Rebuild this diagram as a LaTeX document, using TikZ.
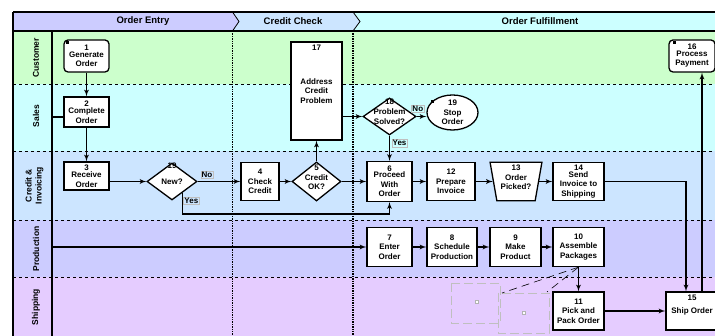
\documentclass[tikz,border=0pt]{standalone}
\usepackage{fontspec}
\setmainfont{Liberation Sans}
\usetikzlibrary{%
  shapes,
  arrows,
  positioning,
  calc
}
\definecolor{custgreen}{HTML}{CCFFCC}
\definecolor{salescyan}{HTML}{CCFFFF}
\definecolor{creditblue}{HTML}{CCE5FF}
\definecolor{prodlavender}{HTML}{CCCCFF}
\definecolor{shiplilac}{HTML}{E5CCFF}
\tikzstyle{stepfont} = [font=\bfseries\fontsize{8}{9.5}\selectfont]
\tikzstyle{squareblock}=[draw, fill=white, rectangle, line width=1.3pt, minimum height=38pt, minimum width=45pt, inner sep=1pt, align=center, stepfont]
\tikzstyle{roundblock}=[squareblock, rounded corners=4pt, minimum height=32pt]
\tikzstyle{decision} = [draw, fill=white, diamond, line width=1.3pt, inner sep=0pt, minimum width=50pt, minimum height=37pt]
\tikzstyle{terminal} = [draw, fill=white, ellipse, line width=1.3pt, inner sep=0pt, minimum width=51pt, minimum height=35pt]
\tikzstyle{manualop} = [draw, fill=white, trapezium, shape border rotate=180, trapezium left angle=80, trapezium right angle=80, line width=1.3pt, inner sep=1pt, minimum width=52pt, minimum height=38pt]
\tikzstyle{steptext} = [align=center, inner sep=0pt, stepfont]
\tikzstyle{flowtag} = [draw=black!25, line width=0.3pt, inner sep=1pt, stepfont]
\tikzstyle{stepmark} = [rectangle, fill=black, minimum size=3pt, inner sep=0pt]
\tikzstyle{lanelabel} = [rotate=90, align=center, font=\bfseries\fontsize{8.5}{10}\selectfont]
\tikzstyle{phasetext} = [font=\bfseries\fontsize{9.5}{11}\selectfont]
\tikzstyle{flow} = [->, line width=1.3pt]
\tikzstyle{lanesep} = [dashed, line width=0.6pt]
\tikzstyle{phasesep} = [densely dotted, line width=1.4pt]
\tikzstyle{laneframe} = [line width=1.5pt]
\tikzstyle{ghostbox} = [draw=black!25, dash pattern=on 9pt off 4pt, line width=0.7pt]
\tikzstyle{ghostline} = [dash pattern=on 8pt off 5pt, line width=0.6pt]
\begin{document}
\begin{tikzpicture}[auto, x=1pt, y=1pt, node distance=62.5pt, >=latex']
        \useasboundingbox (0,0) rectangle (715,336);
        % lanes
        \fill[custgreen] (13,305) rectangle (715,252);
        \fill[salescyan] (13,252) rectangle (715,185);
        \fill[creditblue] (13,185) rectangle (715,116);
        \fill[prodlavender] (13,116) rectangle (715,59);
        \fill[shiplilac] (13,59) rectangle (715,0);
        % phase header
        \fill[salescyan] (13,324) rectangle (715,305);
        \fill[creditblue] (232.5,324) -- (353,324) -- (360,314.5) -- (353,305) -- (232.5,305) -- cycle;
        \draw[line width=0.8pt] (353,324) -- (360,314.5) -- (353,305);
        \fill[prodlavender] (13,324) -- (232.5,324) -- (239,314.5) -- (232.5,305) -- (13,305) -- cycle;
        \draw[line width=0.8pt] (232.5,324) -- (239,314.5) -- (232.5,305);
        \node[phasetext] (phase1) at (143,315) {Order Entry};
        \node[phasetext] (phase2) at (293,315) {Credit Check};
        \node[phasetext] (phase3) at (540,315) {Order Fulfillment};
        \draw[lanesep] (13,252) -- (715,252);
        \draw[lanesep] (13,185) -- (715,185);
        \draw[lanesep] (13,116) -- (715,116);
        \draw[lanesep] (13,59) -- (715,59);
        \draw[phasesep] (232.5,305) -- (232.5,0);
        \draw[phasesep] (353,305) -- (353,0);
        \draw[laneframe] (13,324) -- (715,324);
        \draw[laneframe] (13,305) -- (715,305);
        \draw[laneframe] (13,324) -- (13,0);
        \draw[line width=1.2pt] (52,305) -- (52,0);
        \node[lanelabel] (lane1) at (36,278) {Customer};
        \node[lanelabel] (lane2) at (36,220) {Sales};
        \node[lanelabel] (lane3) at (34.5,150.5) {Credit \&\\Invoicing};
        \node[lanelabel] (lane4) at (36,87) {Production};
        \node[lanelabel] (lane5) at (36,29) {Shipping};
        % stray selection marks
        \draw[ghostbox] (451,53) rectangle (500,13);
        \draw[ghostbox] (498,43) rectangle (549,3);
        \draw[black!30, fill=white, line width=0.3pt] (475.5,32.5) rectangle ++(3,3);
        \draw[black!30, fill=white, line width=0.3pt] (522.5,21.5) rectangle ++(3,3);
        % steps
        \node[roundblock] (block1) at (86.5,280) {1\\[-3pt]Generate\\Order};
        \node[squareblock, minimum height=30pt, below of=block1, node distance=56pt] (block2) {2\\[-2pt]Complete\\Order};
        \node[squareblock, minimum height=28pt, below of=block2, node distance=64pt] (block3) {3\\[-2pt]Receive\\Order};
        \node[decision] (dec19) at (172,154.5) {};
        \node[squareblock, minimum width=38pt, right of=dec19, node distance=88pt] (block4) {4\\Check\\Credit};
        \node[decision, minimum width=49pt, minimum height=39pt, right of=block4, node distance=56.5pt] (dec5) {};
        \node[squareblock, minimum width=51pt, minimum height=98pt, above of=dec5, node distance=90.5pt, label={[stepfont, anchor=north, inner sep=0pt, yshift=-3pt]north:17}] (block17) {Address\\Credit\\Problem};
        \node[squareblock, minimum height=40pt, right of=dec5, node distance=73pt] (block6) {6\\[-3pt]Proceed\\With\\Order};
        \node[decision, minimum width=53pt, above of=block6, node distance=65pt] (dec18) {};
        \node[terminal] (term19) at (452.5,223.5) {};
        \node[squareblock, minimum width=48pt, right of=block6, node distance=61.5pt] (block12) {12\\Prepare\\Invoice};
        \node[manualop, right of=block12, node distance=65pt] (man13) {};
        \node[squareblock, minimum width=51pt, right of=man13] (block14) {14\\[-3pt]Send\\Invoice to\\Shipping};
        \node[squareblock, minimum height=39pt, below of=block6, node distance=65.5pt] (block7) {7\\Enter\\Order};
        \node[squareblock, minimum width=50pt, minimum height=39pt, right of=block7] (block8) {8\\Schedule\\Production};
        \node[squareblock, minimum width=51pt, minimum height=39pt, right of=block8, node distance=63.5pt] (block9) {9\\Make\\Product};
        \node[squareblock, minimum width=51pt, minimum height=39pt, right of=block9, node distance=63pt] (block10) {10\\Assemble\\Packages};
        \node[squareblock, minimum width=51pt, below of=block10, node distance=64pt] (block11) {11\\Pick and\\Pack Order};
        \node[squareblock, minimum width=52pt, right of=block11, node distance=113.5pt, label={[stepfont, anchor=north, inner sep=0pt, yshift=-3pt]north:15}] (block15) {Ship Order};
        \node[roundblock, minimum width=46pt, above of=block15, node distance=255pt] (block16) {16\\[-3pt]Process\\Payment};
        \node[steptext, anchor=north] (dec19num) at (dec19.north) {19};
        \node[steptext] (dec19txt) at (dec19) {New?};
        \node[steptext, yshift=4pt] (dec5txt) at (dec5) {5\\Credit\\OK?};
        \node[steptext, yshift=5pt] (dec18txt) at (dec18) {18\\[1pt]Problem\\Solved?};
        \node[steptext] (term19txt) at (term19) {19\\Stop\\Order};
        \node[steptext, yshift=4pt] (man13txt) at (man13) {13\\Order\\Picked?};
        \node[stepmark] (mark1) at ([shift={(4pt,-3pt)}]block1.north west) {};
        \node[stepmark] (mark16) at ([shift={(6pt,-3pt)}]block16.north west) {};
        \node[stepmark] (mark19) at ([shift={(-20.5pt,10.5pt)}]term19.center) {};
        % connectors
        \draw[flow] (block1) -- (block2);
        \draw[flow] (block2) -- (block3);
        \draw[flow] ([yshift=-5pt]block2.west) -- ++(-12,0) |- (block7.west);
        \draw[flow] (block3.east |- dec19.west) -- (dec19.west);
        \draw[flow] (dec19) -- node[flowtag, pos=0.22, above=3pt]{No} (block4);
        \coordinate (yes19) at ($(dec19.south)!0.4!(dec19.east)$);
        \draw[flow] (yes19) |- node[flowtag, pos=0.18, right=1pt]{Yes} ([yshift=-12pt]block6.south) -- (block6.south);
        \draw[flow] (block4) -- (dec5);
        \draw[flow] (dec5) -- (block17);
        \draw[flow] (dec5) -- (block6);
        \draw[flow] (block17.east |- dec18.west) -- (dec18.west);
        \draw[flow] (dec18.east) -- node[flowtag, pos=0.12, above=4pt]{No} (dec18.east -| term19.west);
        \draw[flow] (dec18) -- node[flowtag, pos=0.3, right=2pt]{Yes} (block6);
        \draw[flow] (block6) -- (block12);
        \draw[flow] (block12) -- (man13);
        \draw[flow] (man13) -- (block14);
        \draw[flow] (block14) -| ([xshift=-6pt]block15.north);
        \draw[flow] ([xshift=10pt]block15.north) -- ([xshift=10pt]block16.south);
        \draw[flow] (block7) -- (block8);
        \draw[flow] (block8) -- (block9);
        \draw[flow] (block9) -- (block10);
        \draw[flow] (block10) -- (block11);
        \draw[flow] (block11) -- (block15);
        \coordinate (ghost1) at (502,43);
        \coordinate (ghost2) at (547,44);
        \draw[ghostline] (block10.south) -- (ghost1);
        \draw[ghostline] (block10.south) -- (ghost2);
      \end{tikzpicture}
\end{document}
